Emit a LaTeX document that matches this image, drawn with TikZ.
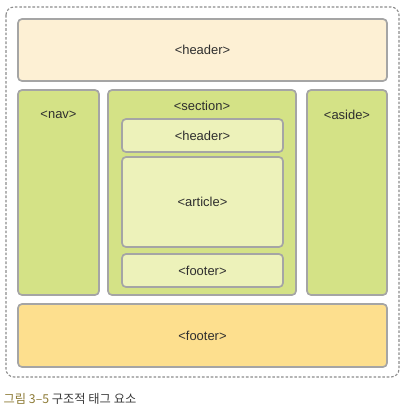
\documentclass[tikz,border=0pt]{standalone}
\usepackage{fontspec}
\setmainfont{Liberation Sans}
\newfontfamily\cjk{Noto Sans CJK KR}
\definecolor{bordergray}{HTML}{A5A5A5}
\definecolor{dashgray}{HTML}{8C8C8C}
\definecolor{cream}{HTML}{FDF0D4}
\definecolor{leaf}{HTML}{D4E286}
\definecolor{paleleaf}{HTML}{EDF2BA}
\definecolor{sand}{HTML}{FDDF8E}
\definecolor{txt}{HTML}{2E2E2E}
\definecolor{capolive}{HTML}{8C7A35}
\definecolor{capgray}{HTML}{3A3A3A}
\begin{document}
\begin{tikzpicture}[x=1bp,y=-1bp,
  lbl/.style={text=txt,font=\fontsize{13}{15}\selectfont},
  box/.style={draw=bordergray,line width=1.7bp,rounded corners=4bp,inner sep=0pt,lbl},
  outerbox/.style={draw=dashgray,line width=1.1bp,dash pattern=on 2.6bp off 1.8bp,rounded corners=8bp}]
\useasboundingbox (0,0) rectangle (405,407);
\draw[outerbox] (6,7) rectangle (399,377);
% header
\node[box,fill=cream,minimum width=369bp,minimum height=62bp] (hdr) at (202.5,50) {<header>};
% nav
\node[box,fill=leaf,minimum width=81bp,minimum height=205bp] (nav) at (58.5,192.5) {};
\node[lbl] (navl) at (58.5,115) {<nav>};
% section
\node[box,fill=leaf,minimum width=188bp,minimum height=205bp] (sec) at (202,192.5) {};
\node[lbl] (secl) at (202,105.5) {<section>};
\node[box,fill=paleleaf,minimum width=161bp,minimum height=33bp] (ihdr) at (202.5,135.5) {<header>};
\node[box,fill=paleleaf,minimum width=161bp,minimum height=90bp] (art) at (202.5,202) {<article>};
\node[box,fill=paleleaf,minimum width=161bp,minimum height=33bp] (ift) at (202.5,270.5) {<footer>};
% aside
\node[box,fill=leaf,minimum width=80bp,minimum height=205bp] (aside) at (347,192.5) {};
\node[lbl] (asidel) at (347,115) {<aside>};
% footer
\node[box,fill=sand,minimum width=369bp,minimum height=63bp] (ftr) at (202.5,335.5) {<footer>};
% caption
\node[anchor=west,inner sep=0pt,font=\cjk\fontsize{12.3}{14}\selectfont] (cap) at (3.5,398.5)
  {\textcolor{capolive}{그림 3–5} \textcolor{capgray}{구조적 태그 요소}};
\end{tikzpicture}
\end{document}
